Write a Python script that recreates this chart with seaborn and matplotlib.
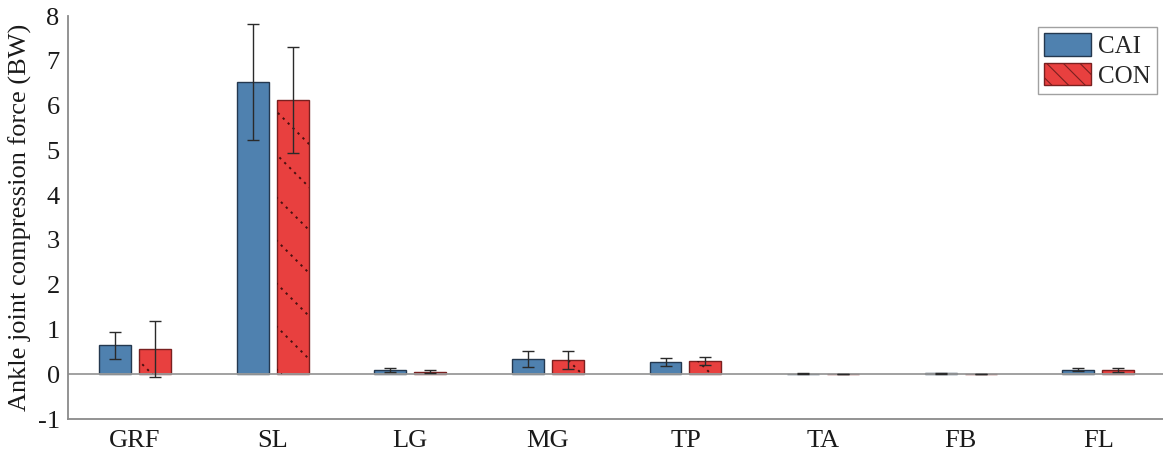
import numpy as np
import pandas as pd
import matplotlib
matplotlib.use("Agg")
import matplotlib.pyplot as plt
from matplotlib.collections import LineCollection
from matplotlib.patches import Patch
import seaborn as sns

# Ankle joint compression force contributions (body weights)
categories = ["GRF", "SL", "LG", "MG", "TP", "TA", "FB", "FL"]
groups = ["CAI", "CON"]
cai_mean = [0.65, 6.52, 0.09, 0.34, 0.28, 0.012, 0.02, 0.10]
cai_sd = [0.30, 1.30, 0.04, 0.17, 0.09, 0.008, 0.010, 0.03]
con_mean = [0.56, 6.12, 0.06, 0.31, 0.30, 0.005, 0.010, 0.10]
con_sd = [0.62, 1.18, 0.04, 0.20, 0.09, 0.004, 0.005, 0.04]
y_ticks = [-1, 0, 1, 2, 3, 4, 5, 6, 7, 8]

df = pd.DataFrame({
    "muscle": categories * 2,
    "group": [groups[0]] * len(categories) + [groups[1]] * len(categories),
    "force": cai_mean + con_mean,
})
errors = {"CAI": cai_sd, "CON": con_sd}

sns.set_theme(style="white")
plt.rcParams["font.family"] = ["Liberation Serif", "DejaVu Serif"]

blue, blue_edge = "#4F81AF", "#24384F"
red, red_edge = "#E8403F", "#7A2020"
hatch_col = "#4A1010"
axis_grey = "#8A8A8A"

W, H = 1163, 455
fig = plt.figure(figsize=(W / 100, H / 100), dpi=100)
ax = fig.add_axes([68 / W, 36 / H, 1 - 68 / W, (419 - 16) / H])

sns.barplot(data=df, x="muscle", y="force", hue="group", order=categories,
            hue_order=groups, palette=[blue, red], width=0.58, gap=0.2,
            errorbar=None, saturation=1, linewidth=1.0, ax=ax, legend=False)

for cont, g, ec in zip(ax.containers, groups, [blue_edge, red_edge]):
    xs, ys = [], []
    for bar in cont:
        bar.set_edgecolor(ec)
        xs.append(bar.get_x() + bar.get_width() / 2)
        ys.append(bar.get_height())
    ax.errorbar(xs, ys, yerr=errors[g], fmt="none", ecolor="#2A2A2A",
                elinewidth=1.0, capsize=4, capthick=1.0, zorder=4)

ax.set_xlim(-0.487, 7.47)
ax.set_ylim(-1, 8)
ax.set_yticks(y_ticks)
ax.set_yticklabels([str(t) for t in y_ticks])
ax.axhline(0, color="#9A9A9A", lw=1.3, zorder=1)

fig.canvas.draw()

# sparse dotted diagonal hatching on the CON bars, clipped to each bar
bb = ax.get_window_extent()
aw, ah = bb.width, bb.height
spacing = 43.0
segs = []
c = 0.0
while c < aw + ah:
    segs.append([(0.0, c / ah), (c / aw, 0.0)])
    c += spacing
for bar in ax.containers[1]:
    lc = LineCollection(segs, colors=hatch_col, linewidths=1.4,
                        linestyles=(0, (1.2, 2.4)), transform=ax.transAxes,
                        zorder=bar.get_zorder() + 0.1)
    ax.add_collection(lc, autolim=False)
    lc.set_clip_path(bar)

for side in ["top", "right"]:
    ax.spines[side].set_visible(False)
for side in ["left", "bottom"]:
    ax.spines[side].set_color(axis_grey)
    ax.spines[side].set_linewidth(1.3)

ax.tick_params(axis="both", direction="in", length=7, width=1.2,
               color=axis_grey, labelsize=19, labelcolor="#1A1A1A", pad=8)
ax.tick_params(axis="y", pad=6)
ax.set_xlabel("")
ax.set_ylabel("Ankle joint compression force (BW)", fontsize=19,
              color="#1A1A1A", labelpad=4)

plt.rcParams["hatch.color"] = hatch_col
plt.rcParams["hatch.linewidth"] = 0.8
handles = [Patch(facecolor=blue, edgecolor=blue_edge, lw=1.0),
           Patch(facecolor=red, edgecolor=red_edge, lw=1.0, hatch="\\\\")]
leg = ax.legend(handles, groups, loc="upper right",
                bbox_to_anchor=(1 - 6 / aw, 1 - 11 / ah), fontsize=18,
                frameon=True, fancybox=False, edgecolor="#8A8A8A",
                handlelength=1.85, handleheight=1.0, handletextpad=0.3,
                borderpad=0.25, labelspacing=0.2, borderaxespad=0)
leg.get_frame().set_linewidth(1.0)

fig.savefig("out.png", dpi=100)
